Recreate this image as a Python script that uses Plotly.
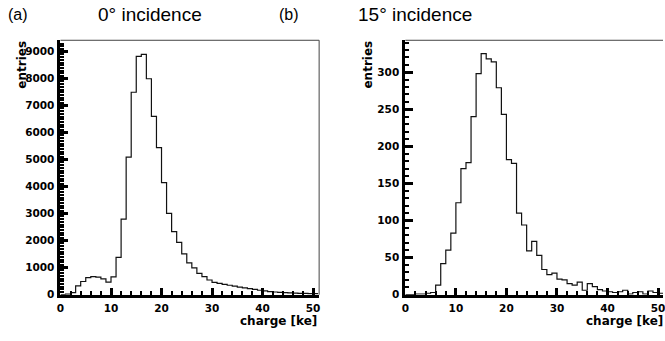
import plotly.graph_objects as go

W, H = 665, 341

# ---- data ----
edges = list(range(0, 52))  # bin edges 0..51 ke (1 ke bins)
entries_0deg = [0, 20, 80, 330, 490, 630, 670, 650, 590, 470,
                660, 1380, 2800, 5100, 7500, 8830, 8900, 8000, 6610, 5450,
                4150, 3010, 2340, 1940, 1515, 1180, 995, 790, 667, 546,
                460, 420, 385, 350, 315, 285, 255, 225, 195, 165,
                140, 118, 100, 85, 75, 65, 58, 52, 47, 43, 40]
entries_15deg = [0, 0, 1, 1, 2, 3, 13, 42, 60, 83,
                 124, 170, 178, 240, 298, 325, 318, 314, 279, 243,
                 182, 177, 110, 94, 59, 72, 53, 34, 27, 29,
                 21, 20, 15, 13, 17, 6, 15, 11, 7, 5,
                 4, 3, 4, 6, 1, 3, 4, 1, 5, 3, 2]
x_ticks = [0, 10, 20, 30, 40, 50]
y_ticks_0 = [0, 1000, 2000, 3000, 4000, 5000, 6000, 7000, 8000, 9000]
y_ticks_15 = [0, 50, 100, 150, 200, 250, 300]
panel_labels = ["(a)", "(b)"]
panel_titles = ["0° incidence", "15° incidence"]
x_title = "charge [ke]"
y_title = "entries"


def px(x):
    return x / W


def py(y):
    return 1 - y / H


fig = go.Figure()

for i, vals in enumerate([entries_0deg, entries_15deg]):
    sfx = "" if i == 0 else "2"
    fig.add_trace(go.Scatter(
        x=edges, y=vals + [vals[-1]], mode="lines", line_shape="hv",
        line=dict(color="#111111", width=1.2),
        xaxis="x" + sfx, yaxis="y" + sfx, showlegend=False, hoverinfo="skip"))

tickfont = dict(family="DejaVu Sans", size=10.5, color="black", weight="bold")

common_x = dict(showline=True, linewidth=3, linecolor="black", mirror=False,
                ticks="inside", ticklen=7, tickwidth=2.5, tickcolor="black",
                tickvals=x_ticks, tickfont=tickfont, showgrid=False, zeroline=False,
                ticklabeloverflow="allow", ticklabelstandoff=2,
                minor=dict(ticks="inside", dtick=2, ticklen=4, tickwidth=2,
                           tickcolor="black", showgrid=False))
common_y = dict(showline=True, linewidth=3, linecolor="black", mirror=False,
                ticks="inside", ticklen=8, tickwidth=2.5, tickcolor="black",
                tickfont=tickfont, showgrid=False, zeroline=False,
                ticklabeloverflow="allow", ticklabelstandoff=1)

ydom = [py(300), py(41)]
fig.update_layout(
    width=W, height=H, margin=dict(l=0, r=0, t=0, b=0),
    paper_bgcolor="white", plot_bgcolor="white",
    xaxis=dict(domain=[px(57), px(318)], range=[0, 51.2], anchor="y", **common_x),
    yaxis=dict(domain=ydom, range=[0, 9425], anchor="x", tickvals=y_ticks_0,
               minor=dict(ticks="inside", dtick=100, ticklen=4, tickwidth=2,
                          tickcolor="black", showgrid=False),
               **common_y),
    xaxis2=dict(domain=[px(405), 1.0], range=[0, 50.98], anchor="y2", **common_x),
    yaxis2=dict(domain=ydom, range=[0, 343], anchor="x2", tickvals=y_ticks_15,
                minor=dict(ticks="inside", dtick=10, ticklen=4, tickwidth=2,
                           tickcolor="black", showgrid=False),
                **common_y),
)

# thin frame (top / right)
fig.add_shape(type="line", xref="paper", yref="paper", x0=px(57), x1=px(318),
              y0=py(41), y1=py(41), line=dict(color="#444444", width=1))
fig.add_shape(type="line", xref="paper", yref="paper", x0=px(318), x1=px(318),
              y0=py(41), y1=py(300), line=dict(color="#444444", width=1))
fig.add_shape(type="line", xref="paper", yref="paper", x0=px(405), x1=1.0,
              y0=py(41), y1=py(41), line=dict(color="#444444", width=1))

tfont = dict(family="Liberation Sans, Arial", size=19, color="black")
lfont = dict(family="Liberation Sans, Arial", size=16, color="black")
afont = dict(family="DejaVu Sans", size=12, color="black", weight="bold")

ann = []
ann.append(dict(text=panel_labels[0], x=px(2), y=py(15), xanchor="left", yanchor="middle", font=lfont))
ann.append(dict(text=panel_titles[0], x=px(147), y=py(15), xanchor="center", yanchor="middle", font=tfont))
ann.append(dict(text=panel_labels[1], x=px(275), y=py(15), xanchor="left", yanchor="middle", font=lfont))
ann.append(dict(text=panel_titles[1], x=px(415), y=py(15), xanchor="center", yanchor="middle", font=tfont))
for xr, xt in [(318, 18), (667, 367)]:
    ann.append(dict(text=x_title, x=px(xr), y=py(327), xanchor="right", yanchor="middle", font=afont))
    ann.append(dict(text=y_title, x=px(xt), y=py(66), xanchor="center", yanchor="middle",
                    textangle=-90, font=afont))
for a in ann:
    a.update(xref="paper", yref="paper", showarrow=False)
fig.update_layout(annotations=ann)

fig.write_html("out.html")
